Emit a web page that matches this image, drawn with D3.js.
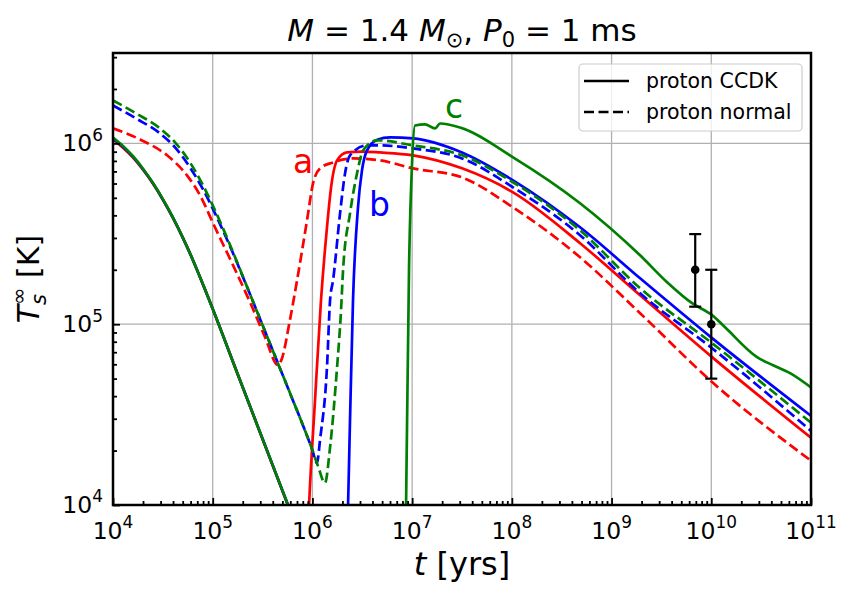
<!DOCTYPE html>
<html>
<head>
<meta charset="utf-8">
<script src="https://cdn.jsdelivr.net/npm/d3@7"></script>
<style>
  html, body { margin: 0; padding: 0; background: #fff; }
  svg { display: block; }
  text { font-family: "DejaVu Sans", sans-serif; }
</style>
</head>
<body>
<svg id="chart" width="855" height="597"></svg>
<script>
// ---------------- DATA (pairs are [log10 t (yrs), log10 T (K)]; null = gap) ----------------
const redSolid = [[4.000,6.021],[4.100,5.976],[4.201,5.921],[4.301,5.854],[4.401,5.777],[4.502,5.687],[4.602,5.587],[4.702,5.476],[4.802,5.354],[4.943,5.164],[5.274,4.690],[5.755,3.998],[5.846,3.870], null,
  [5.955,3.850],[5.966,3.995],[6.026,4.580],[6.086,5.133],[6.146,5.536],[6.187,5.757],[6.247,5.906],[6.347,5.950],[6.500,5.955],[6.678,5.950],[7.009,5.934],[7.500,5.862],[8.012,5.729],[8.684,5.448],[9.286,5.160],[10.008,4.818],[11.000,4.372]];
const blueSolid = [[4.000,6.027],[4.100,5.981],[4.201,5.925],[4.301,5.857],[4.401,5.779],[4.502,5.688],[4.602,5.588],[4.702,5.476],[4.802,5.354],[4.943,5.164],[5.274,4.690],[5.755,4.000],[5.846,3.871], null,
  [6.350,3.850],[6.357,3.990],[6.377,4.470],[6.407,5.133],[6.457,5.646],[6.497,5.851],[6.548,5.961],[6.650,6.020],[6.778,6.033],[7.009,6.028],[7.500,5.950],[8.012,5.796],[8.684,5.536],[9.286,5.254],[10.008,4.923],[11.000,4.493]];
const greenSolid = [[4.000,6.033],[4.100,5.986],[4.201,5.929],[4.301,5.860],[4.401,5.781],[4.502,5.690],[4.602,5.589],[4.702,5.477],[4.802,5.354],[4.943,5.164],[5.274,4.690],[5.755,4.000],[5.846,3.871], null,
  [6.935,3.850],[6.939,4.000],[6.969,5.315],[6.999,5.890],[7.029,6.099],[7.129,6.105],[7.230,6.083],[7.280,6.110],[7.480,6.088],[8.012,5.923],[8.684,5.669],[9.286,5.381],[9.557,5.232],[9.807,5.116],[10.008,5.050],[10.138,4.983],[10.459,4.818],[10.620,4.773],[10.790,4.729],[11.000,4.650]];

const redDashed = [[4.000,6.083],[4.271,6.022],[4.542,5.934],[4.742,5.823],[4.873,5.713],[5.013,5.547],[5.204,5.326],[5.374,5.122],[5.525,4.928],[5.655,4.773],[5.695,4.812],[5.770,5.010],[5.846,5.243],[5.946,5.575],[6.006,5.779],[6.076,5.862],[6.207,5.895],[6.407,5.917],[6.678,5.906],[7.009,5.862],[7.500,5.812],[8.012,5.646],[8.684,5.370],[9.286,5.061],[10.008,4.680],[11.000,4.245]];
const blueDashed = [[4.000,6.210],[4.231,6.138],[4.471,6.055],[4.622,5.978],[4.772,5.867],[4.903,5.746],[5.023,5.613],[5.204,5.392],[5.374,5.166],[5.605,4.851],[5.775,4.619],[5.996,4.309],[6.046,4.232],[6.076,4.359],[6.146,4.762],[6.177,5.133],[6.207,5.243],[6.277,5.613],[6.327,5.834],[6.377,5.934],[6.548,5.989],[6.678,5.989],[7.009,5.972],[7.500,5.917],[8.012,5.757],[8.684,5.492],[9.286,5.171],[10.008,4.867],[11.000,4.410]];
const greenDashed = [[4.000,6.238],[4.231,6.166],[4.471,6.083],[4.622,6.006],[4.772,5.895],[4.903,5.768],[5.023,5.630],[5.204,5.398],[5.374,5.166],[5.605,4.851],[5.775,4.619],[5.996,4.309],[6.056,4.215],[6.126,4.122],[6.177,4.320],[6.247,4.762],[6.287,5.077],[6.307,5.298],[6.377,5.613],[6.447,5.834],[6.508,5.961],[6.648,6.017],[7.009,5.989],[7.500,5.934],[8.012,5.785],[8.684,5.519],[9.286,5.199],[10.008,4.895],[11.000,4.455]];

// observations with error bars
const obsAge   = [6.9e9, 1.0e10];
const obsTemp  = [2.0e5, 1.0e5];
const obsLow   = [1.25e5, 5.0e4];
const obsHigh  = [3.15e5, 2.0e5];

// curve labels: text and anchor [t, T]
const curveLabels = ["a", "b", "c"];
const curveLabelPos = [[6.4e5, 6.9e5], [3.7e6, 3.95e5], [2.14e7, 1.39e6]];

const legendLabels = ["proton CCDK", "proton normal"];
const xMajorTicks = [1e4, 1e5, 1e6, 1e7, 1e8, 1e9, 1e10, 1e11];
const xTickExp    = ["4", "5", "6", "7", "8", "9", "10", "11"];
const yMajorTicks = [1e4, 1e5, 1e6];
const yTickExp    = ["4", "5", "6"];

// ---------------- LAYOUT ----------------
const svg = d3.select("#chart");
const L = 113, R = 811, T = 53, B = 505;
const x = d3.scaleLog().domain([1e4, 1e11]).range([L, R]);
const y = d3.scaleLog().domain([1e4, Math.pow(10, 6.5)]).range([B, T]);

const colors = { red: "#ff0000", blue: "#0000ff", green: "#008000" };
const LW = 2.7, DASH = "10,4.5";

// grid
const grid = svg.append("g");
grid.selectAll("line.gx").data(xMajorTicks.slice(1, -1)).enter().append("line")
  .attr("x1", d => x(d)).attr("x2", d => x(d)).attr("y1", T).attr("y2", B)
  .attr("stroke", "#b0b0b0").attr("stroke-width", 1.3);
grid.selectAll("line.gy").data(yMajorTicks.slice(1)).enter().append("line")
  .attr("x1", L).attr("x2", R).attr("y1", d => y(d)).attr("y2", d => y(d))
  .attr("stroke", "#b0b0b0").attr("stroke-width", 1.3);

// clip
svg.append("clipPath").attr("id", "clip").append("rect")
  .attr("x", L).attr("y", T).attr("width", R - L).attr("height", B - T);

const line = d3.line()
  .defined(d => d !== null)
  .x(d => x(Math.pow(10, d[0])))
  .y(d => y(Math.pow(10, d[1])))
  .curve(d3.curveMonotoneX);

const series = [
  { data: redSolid, color: colors.red, dash: null },
  { data: redDashed, color: colors.red, dash: DASH },
  { data: blueSolid, color: colors.blue, dash: null },
  { data: blueDashed, color: colors.blue, dash: DASH },
  { data: greenSolid, color: colors.green, dash: null },
  { data: greenDashed, color: colors.green, dash: DASH }
];
const lines = svg.append("g").attr("clip-path", "url(#clip)");
series.forEach(s => {
  lines.append("path").attr("d", line(s.data))
    .attr("fill", "none").attr("stroke", s.color).attr("stroke-width", LW)
    .attr("stroke-dasharray", s.dash);
});

// error bars
const eb = svg.append("g");
obsAge.forEach((t, i) => {
  const cx = x(t);
  eb.append("line").attr("x1", cx).attr("x2", cx).attr("y1", y(obsLow[i])).attr("y2", y(obsHigh[i]))
    .attr("stroke", "#000").attr("stroke-width", 2.2);
  [obsLow[i], obsHigh[i]].forEach(v => {
    eb.append("line").attr("x1", cx - 6).attr("x2", cx + 6).attr("y1", y(v)).attr("y2", y(v))
      .attr("stroke", "#000").attr("stroke-width", 2.2);
  });
  eb.append("circle").attr("cx", cx).attr("cy", y(obsTemp[i])).attr("r", 4.3).attr("fill", "#000");
});

// curve labels
const lblColors = [colors.red, colors.blue, colors.green];
curveLabels.forEach((s, i) => {
  svg.append("text").attr("x", x(curveLabelPos[i][0])).attr("y", y(curveLabelPos[i][1]))
    .attr("fill", lblColors[i]).attr("font-size", 33).text(s);
});

// ticks (inward)
const minorX = [];
for (let e = 4; e < 11; e++) for (let k = 2; k <= 9; k++) minorX.push(k * Math.pow(10, e));
const minorY = [];
for (let e = 4; e < 7; e++) for (let k = 2; k <= 9; k++) { const v = k * Math.pow(10, e); if (v <= Math.pow(10, 6.5)) minorY.push(v); }

const xAxisMajor = svg.append("g").attr("transform", `translate(0,${B})`)
  .call(d3.axisBottom(x).tickValues(xMajorTicks).tickSize(-7).tickFormat(""));
const xAxisMinor = svg.append("g").attr("transform", `translate(0,${B})`)
  .call(d3.axisBottom(x).tickValues(minorX).tickSize(-4).tickFormat(""));
const yAxisMajor = svg.append("g").attr("transform", `translate(${L},0)`)
  .call(d3.axisLeft(y).tickValues(yMajorTicks).tickSize(-7).tickFormat(""));
const yAxisMinor = svg.append("g").attr("transform", `translate(${L},0)`)
  .call(d3.axisLeft(y).tickValues(minorY).tickSize(-4).tickFormat(""));
[xAxisMajor, xAxisMinor, yAxisMajor, yAxisMinor].forEach(g => {
  g.select(".domain").remove();
  g.selectAll(".tick line").attr("stroke", "#000").attr("stroke-width", 1.8);
});

// tick labels
const tickFont = 23.5;
xMajorTicks.forEach((v, i) => {
  const t = svg.append("text").attr("x", x(v)).attr("y", 539).attr("text-anchor", "middle")
    .attr("font-size", tickFont).attr("fill", "#000");
  t.append("tspan").text("10");
  t.append("tspan").attr("font-size", tickFont * 0.72).attr("dy", -tickFont * 0.45).text(xTickExp[i]);
});
yMajorTicks.forEach((v, i) => {
  const t = svg.append("text").attr("x", 103).attr("y", y(v) + 8).attr("text-anchor", "end")
    .attr("font-size", tickFont).attr("fill", "#000");
  t.append("tspan").text("10");
  t.append("tspan").attr("font-size", tickFont * 0.72).attr("dy", -tickFont * 0.45).text(yTickExp[i]);
});

// frame
svg.append("rect").attr("x", L).attr("y", T).attr("width", R - L).attr("height", B - T)
  .attr("fill", "none").attr("stroke", "#000").attr("stroke-width", 2.5);

// title
const title = svg.append("text").attr("x", (L + R) / 2).attr("y", 41).attr("text-anchor", "middle")
  .attr("font-size", 31).attr("fill", "#000");
title.append("tspan").attr("font-style", "italic").text("M");
title.append("tspan").text(" = 1.4 ");
title.append("tspan").attr("font-style", "italic").text("M");
title.append("tspan").attr("font-size", 21).attr("dy", 6).text("⊙");
title.append("tspan").attr("dy", -6).text(", ");
title.append("tspan").attr("font-style", "italic").text("P");
title.append("tspan").attr("font-size", 21).attr("dy", 6).text("0");
title.append("tspan").attr("dy", -6).text(" = 1 ms");

// x label
const xl = svg.append("text").attr("x", (L + R) / 2).attr("y", 575).attr("text-anchor", "middle")
  .attr("font-size", 32).attr("fill", "#000");
xl.append("tspan").attr("font-style", "italic").text("t");
xl.append("tspan").text(" [yrs]");

// y label
const yl = svg.append("text").attr("transform", `translate(39,${(T + B) / 2}) rotate(-90)`)
  .attr("text-anchor", "middle").attr("font-size", 30).attr("fill", "#000");
yl.append("tspan").attr("font-style", "italic").text("T");
yl.append("tspan").attr("font-style", "italic").attr("font-size", 21).attr("dy", 7).text("s");
yl.append("tspan").attr("font-size", 21).attr("dx", -11).attr("dy", -20).text("∞");
yl.append("tspan").attr("dy", 13).text(" [K]");

// legend
const lg = svg.append("g");
lg.append("rect").attr("x", 579).attr("y", 64).attr("width", 223).attr("height", 67).attr("rx", 4)
  .attr("fill", "#fff").attr("fill-opacity", 0.8).attr("stroke", "#cccccc").attr("stroke-width", 1.2);
const legendDash = [null, DASH];
legendLabels.forEach((s, i) => {
  const yy = 81 + i * 31;
  lg.append("line").attr("x1", 584).attr("x2", 629).attr("y1", yy).attr("y2", yy)
    .attr("stroke", "#000").attr("stroke-width", LW).attr("stroke-dasharray", legendDash[i]);
  lg.append("text").attr("x", 646).attr("y", yy + 7).attr("font-size", 20.5).attr("fill", "#000").text(s);
});
</script>
</body>
</html>
